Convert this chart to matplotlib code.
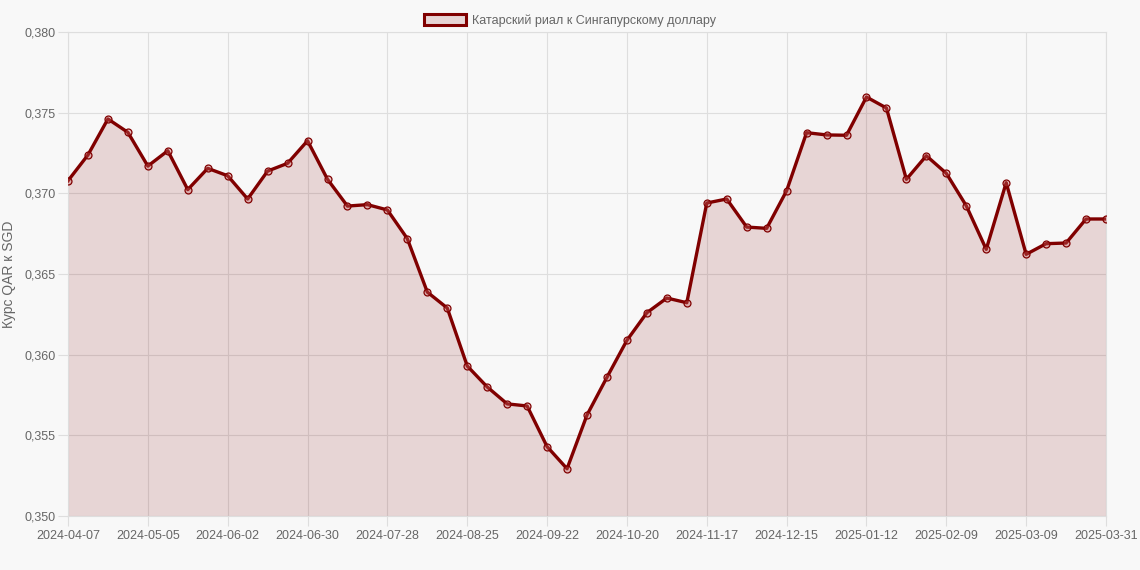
import numpy as np
import matplotlib.pyplot as plt
from datetime import date, timedelta

plt.rcParams['font.family'] = ['Liberation Sans', 'DejaVu Sans']

# weekly dates, last point is 2025-03-31
start = date(2024, 4, 7)
dates = [(start + timedelta(days=7 * i)).isoformat() for i in range(52)] + ['2025-03-31']

rate = [0.37078, 0.37238, 0.37461, 0.37378, 0.37169, 0.37264, 0.37023, 0.37155,
        0.37109, 0.36965, 0.37138, 0.37186, 0.37326, 0.37087, 0.36921, 0.36930,
        0.36897, 0.36719, 0.36388, 0.36289, 0.35930, 0.35800, 0.35695, 0.35682,
        0.35430, 0.35293, 0.35626, 0.35860, 0.36089, 0.36260, 0.36351, 0.36322,
        0.36940, 0.36965, 0.36791, 0.36783, 0.37016, 0.37376, 0.37362, 0.37360,
        0.37597, 0.37529, 0.37087, 0.37233, 0.37124, 0.36923, 0.36653, 0.37066,
        0.36622, 0.36688, 0.36692, 0.36841, 0.36841]

label = 'Катарский риал к Сингапурскому доллару'
line_col = '#800000'
fill_col = (0.5, 0.0, 0.0, 0.14)
bg = '#f8f8f8'
grid_col = '#dedede'
text_col = '#666666'

x = np.arange(len(rate))

fig = plt.figure(figsize=(11.4, 5.7), dpi=100, facecolor=bg)
ax = fig.add_axes([68 / 1140, 1 - 516 / 570, (1106 - 68) / 1140, (516 - 32) / 570])
ax.set_facecolor(bg)

ax.fill_between(x, rate, 0.350, color=fill_col, linewidth=0, zorder=2)
ax.plot(x, rate, color=line_col, linewidth=2.4, zorder=3,
        marker='o', markersize=5, markerfacecolor=(0.8, 0.4, 0.4, 0.35),
        markeredgecolor=line_col, markeredgewidth=0.9)

ax.set_xlim(0, len(rate) - 1)
ax.set_ylim(0.350, 0.380)

ticks = list(range(0, len(rate) - 1, 4)) + [len(rate) - 1]
ax.set_xticks(ticks)
ax.set_xticklabels([dates[i] for i in ticks])
yt = np.arange(0.350, 0.3801, 0.005)
ax.set_yticks(yt)
ax.set_yticklabels([f'{v:.3f}'.replace('.', ',') for v in yt])

ax.set_axisbelow(True)
ax.grid(True, color=grid_col, linewidth=0.8)
for s in ax.spines.values():
    s.set_color(grid_col)
    s.set_linewidth(0.8)
ax.tick_params(colors=grid_col, labelcolor=text_col, labelsize=9, length=7, width=0.8)
ax.tick_params(axis='x', pad=3)
ax.tick_params(axis='y', pad=2)

ax.set_ylabel('Курс QAR к SGD', color=text_col, fontsize=10, labelpad=6)

leg = fig.legend([plt.Rectangle((0, 0), 1, 1, facecolor=(0.5, 0, 0, 0.14),
                                edgecolor=line_col, linewidth=2.2)],
                 [label], loc='upper center', bbox_to_anchor=(0.5, 0.995),
                 frameon=False, fontsize=9, handlelength=3.4, handleheight=1.0,
                 handletextpad=0.5)
for t in leg.get_texts():
    t.set_color(text_col)

fig.savefig('out.png', dpi=100, facecolor=bg)
